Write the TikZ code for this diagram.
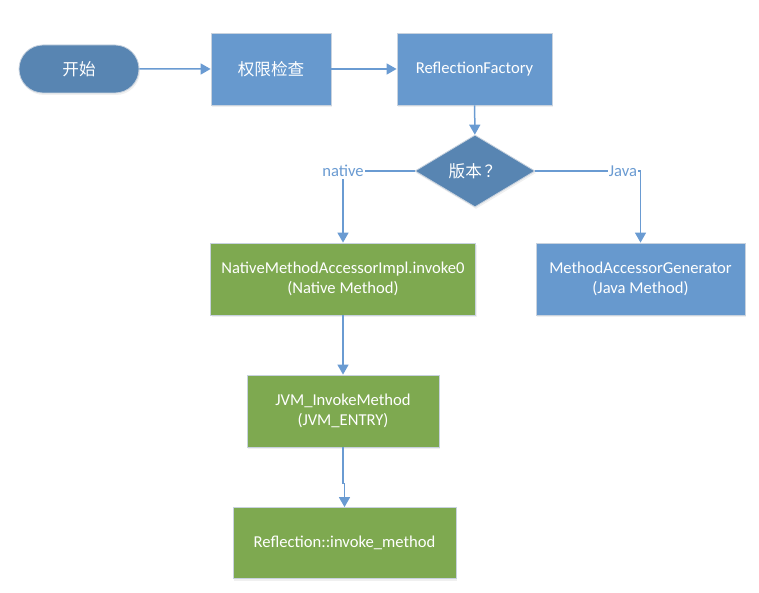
\documentclass[tikz,border=0pt]{standalone}
\usepackage{fontspec}
\setmainfont{Carlito}
\newfontfamily\cjk{Noto Sans CJK SC}
\usetikzlibrary{arrows.meta,shapes.geometric,shapes.misc,shadows}
\definecolor{boxblue}{RGB}{103,153,206}
\definecolor{darkblue}{RGB}{88,133,178}
\definecolor{boxgreen}{RGB}{126,169,80}
\definecolor{edgegray}{RGB}{200,210,222}
\definecolor{linkblue}{RGB}{106,155,210}
\begin{document}
\begin{tikzpicture}[x=1pt,y=-1pt,
    font=\fontsize{16.6}{20}\selectfont,
    box/.style={draw=edgegray,line width=0.8pt,fill=boxblue,text=white,inner sep=0pt,align=center,
        drop shadow={opacity=0.12,shadow xshift=1pt,shadow yshift=-2pt}},
    gbox/.style={box,fill=boxgreen},
    arr/.style={draw=linkblue,line width=1.5pt,-{Triangle[length=10pt,width=11pt]}},
    lbl/.style={fill=white,text=linkblue,inner xsep=1pt,inner ysep=2pt}]
  \useasboundingbox (0,0) rectangle (759,593);
  \node[box,rounded rectangle,fill=darkblue,minimum width=120pt,minimum height=48pt] (start) at (79,69) {\cjk 开始};
  \node[box,minimum width=120pt,minimum height=72pt] (check) at (271,69) {\cjk 权限检查};
  \node[box,minimum width=155pt,minimum height=72pt] (factory) at (474.5,69) {ReflectionFactory};
  \node[box,diamond,fill=darkblue,aspect=1.667,minimum width=120pt,minimum height=72pt] (ver) at (475,171) {\cjk 版本\,？};
  \node[gbox,minimum width=265pt,minimum height=72pt] (nat) at (343,279) {NativeMethodAccessorImpl.invoke0\\(Native Method)};
  \node[box,minimum width=209pt,minimum height=72pt] (gen) at (640.5,279) {MethodAccessorGenerator\\(Java Method)};
  \node[gbox,minimum width=192pt,minimum height=72pt] (jvm) at (343,411) {JVM\_InvokeMethod\\(JVM\_ENTRY)};
  \node[gbox,minimum width=223pt,minimum height=71pt] (refl) at (344.5,543) {Reflection::invoke\_method};
  % connectors
  \draw[arr] (start) -- (check);
  \draw[arr] (check) -- (factory);
  \draw[arr] (factory) -- (ver);
  \draw[arr] (ver.west) -| (nat.north);
  \draw[arr] (ver.east) -| (gen.north);
  \draw[arr] (nat) -- (jvm);
  \draw[arr] (jvm.south) -- ++(0,36) -| (refl.north);
  \node[lbl] (native) at (343,171) {native};
  \node[lbl] (java) at (623,171) {Java};
\end{tikzpicture}
\end{document}
